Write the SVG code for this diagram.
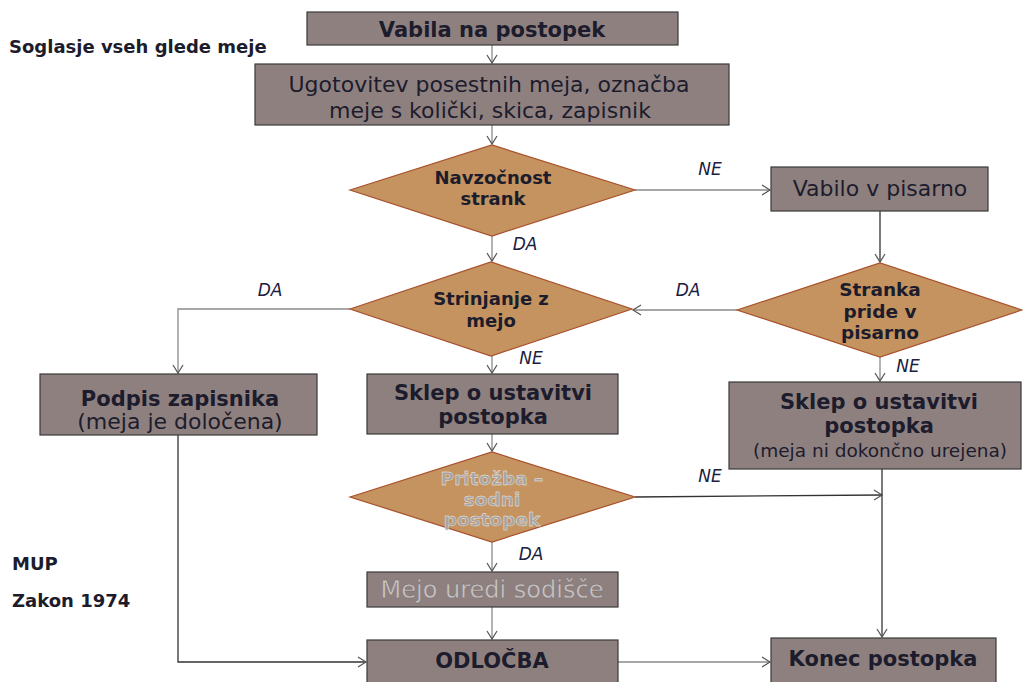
<svg xmlns="http://www.w3.org/2000/svg" width="1023" height="682" viewBox="0 0 1023 682">
<style>
text{font-family:"DejaVu Sans",sans-serif;fill:#1c1c2c;text-anchor:middle}
.box{fill:#8f8080;stroke:#3a3a3a;stroke-width:1.2}
.dia{fill:#c4935f;stroke:#a8502a;stroke-width:1.2}
.b{font-weight:bold}
.side{font-weight:bold;font-size:18px;text-anchor:start}
.lbl{font-style:italic;font-size:17px;fill:#1a2040}
.ghost{fill:#a9a4a0;stroke:#eeeeee;stroke-width:0.4;font-weight:bold}
.ghost2{fill:#c8c4c4;stroke:#6a6060;stroke-width:0.3}
.ln{fill:none;stroke:#8a8a8a;stroke-width:1.3}
.dk{fill:none;stroke:#333;stroke-width:1.3}
</style>
<defs>
<marker id="ar" markerWidth="12" markerHeight="12" refX="10" refY="6" orient="auto" markerUnits="userSpaceOnUse">
<path d="M2,1 L10,6 L2,11" fill="none" stroke="#555" stroke-width="1.2"/>
</marker>
</defs>
<rect width="1023" height="682" fill="#ffffff"/>
<text class="side" x="9" y="53">Soglasje vseh glede meje</text>
<text class="side" x="12" y="570">MUP</text>
<text class="side" x="12" y="607">Zakon 1974</text>
<g id="connectors">
<path class="ln" d="M492,45 V63" marker-end="url(#ar)"/>
<path class="ln" d="M492,125 V144" marker-end="url(#ar)"/>
<path class="ln" d="M635,190 H770" marker-end="url(#ar)"/>
<path class="dk" d="M880,211 V262" marker-end="url(#ar)"/>
<path class="ln" d="M492,236 V261" marker-end="url(#ar)"/>
<path class="ln" d="M737,310 H633" marker-end="url(#ar)"/>
<path class="ln" d="M350,309 H178 V373" marker-end="url(#ar)"/>
<path class="ln" d="M492,356 V373" marker-end="url(#ar)"/>
<path class="ln" d="M880,357 V381" marker-end="url(#ar)"/>
<path class="ln" d="M492,434 V451" marker-end="url(#ar)"/>
<path class="dk" d="M635,497 L882,495" marker-end="url(#ar)"/>
<path class="ln" d="M492,542 V571" marker-end="url(#ar)"/>
<path class="ln" d="M492,607 V639" marker-end="url(#ar)"/>
<path class="dk" d="M178,434 V662 H366" marker-end="url(#ar)"/>
<path class="ln" d="M618,662 H770" marker-end="url(#ar)"/>
<path class="dk" d="M882,469 V637" marker-end="url(#ar)"/>
<text class="lbl" x="710" y="175">NE</text>
<text class="lbl" x="525" y="250">DA</text>
<text class="lbl" x="688" y="296">DA</text>
<text class="lbl" x="270" y="296">DA</text>
<text class="lbl" x="531" y="364">NE</text>
<text class="lbl" x="908" y="372">NE</text>
<text class="lbl" x="710" y="482">NE</text>
<text class="lbl" x="531" y="560">DA</text>
</g>
<g id="n1"><rect class="box" x="307" y="12" width="371" height="33"/><text class="b" x="492" y="37" font-size="21">Vabila na postopek</text></g>
<g id="n2"><rect class="box" x="255" y="64" width="474" height="61"/><text x="489" y="92" font-size="22">Ugotovitev posestnih meja, označba</text><text x="490" y="118" font-size="22">meje s količki, skica, zapisnik</text></g>
<g id="d1"><polygon class="dia" points="350,190 492,145 635,190 492,236"/><text class="b" x="493" y="184" font-size="18">Navzočnost</text><text class="b" x="493" y="205" font-size="18">strank</text></g>
<g id="n3"><rect class="box" x="771" y="167" width="217" height="44"/><text x="880" y="196" font-size="22">Vabilo v pisarno</text></g>
<g id="d3"><polygon class="dia" points="737,310 880,263 1022,310 880,357"/><text class="b" x="880" y="296" font-size="18.5">Stranka</text><text class="b" x="880" y="318" font-size="18.5">pride v</text><text class="b" x="880" y="339" font-size="18.5">pisarno</text></g>
<g id="d2"><polygon class="dia" points="350,309 491,262 632,309 491,356"/><text class="b" x="491" y="305" font-size="18">Strinjanje z</text><text class="b" x="491" y="327" font-size="18">mejo</text></g>
<g id="n4"><rect class="box" x="40" y="374" width="277" height="61"/><text class="b" x="180" y="406" font-size="21">Podpis zapisnika</text><text x="180" y="429" font-size="22">(meja je določena)</text></g>
<g id="n5"><rect class="box" x="367" y="374" width="251" height="60"/><text class="b" x="493" y="400" font-size="21">Sklep o ustavitvi</text><text class="b" x="493" y="424" font-size="21">postopka</text></g>
<g id="n6"><rect class="box" x="729" y="382" width="292" height="87"/><text class="b" x="879" y="409" font-size="21">Sklep  o ustavitvi</text><text class="b" x="879" y="433" font-size="21">postopka</text><text x="880" y="457" font-size="18.5">(meja ni dokončno urejena)</text></g>
<g id="d4"><polygon class="dia" points="350,497 492,452 635,497 492,542"/><text class="ghost" x="492" y="485" font-size="18.5">Pritožba –</text><text class="ghost" x="492" y="506" font-size="18.5">sodni</text><text class="ghost" x="492" y="526" font-size="18.5">postopek</text></g>
<g id="n7"><rect class="box" x="367" y="572" width="251" height="35"/><text class="ghost2" x="492" y="598" font-size="24">Mejo uredi sodišče</text></g>
<g id="n8"><rect class="box" x="367" y="640" width="251" height="46"/><text class="b" x="492" y="668" font-size="21">ODLOČBA</text></g>
<g id="n9"><rect class="box" x="771" y="638" width="225" height="48"/><text class="b" x="883" y="666" font-size="21">Konec postopka</text></g>
</svg>
